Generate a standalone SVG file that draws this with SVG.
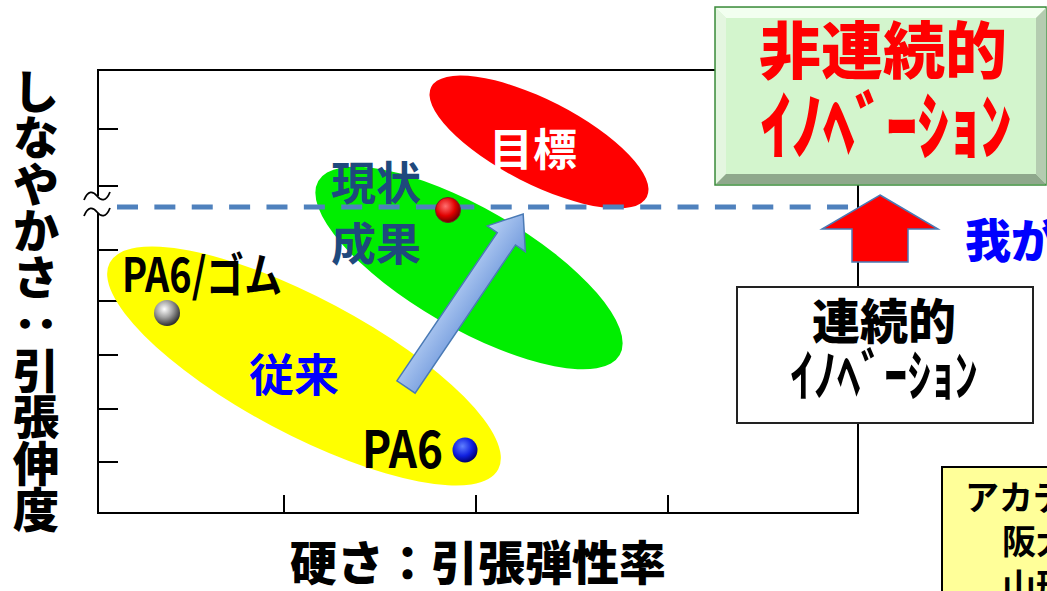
<svg xmlns="http://www.w3.org/2000/svg" width="1047" height="591" viewBox="0 0 1047 591">
<defs>
<style>
text{font-family:"Noto Sans CJK JP","Noto Sans CJK SC",sans-serif;font-weight:700}
.ax{stroke:#000;stroke-width:2;fill:none}
.tk{stroke:#000;stroke-width:2}
</style>
<radialGradient id="gRed" cx="0.4" cy="0.35" r="0.65">
<stop offset="0" stop-color="#ff7070"/><stop offset="0.6" stop-color="#e00000"/><stop offset="1" stop-color="#700000"/>
</radialGradient>
<radialGradient id="gGray" cx="0.4" cy="0.35" r="0.65">
<stop offset="0" stop-color="#ffffff"/><stop offset="0.5" stop-color="#a0a0a0"/><stop offset="1" stop-color="#303030"/>
</radialGradient>
<radialGradient id="gBlue" cx="0.4" cy="0.35" r="0.65">
<stop offset="0" stop-color="#6080ff"/><stop offset="0.6" stop-color="#1020e0"/><stop offset="1" stop-color="#000070"/>
</radialGradient>
<linearGradient id="gArrow" x1="0" y1="0" x2="0" y2="1">
<stop offset="0" stop-color="#b8d0f4"/><stop offset="1" stop-color="#6f98dc"/>
</linearGradient>
</defs>

<g id="frame">
<path class="ax" d="M98,196 V70 H858 V513 H98 V213"/>
<g class="tk">
<line x1="98" y1="129" x2="118" y2="129"/>
<line x1="98" y1="186" x2="118" y2="186"/>
<line x1="98" y1="250" x2="118" y2="250"/>
<line x1="98" y1="301" x2="118" y2="301"/>
<line x1="98" y1="355" x2="118" y2="355"/>
<line x1="98" y1="409" x2="118" y2="409"/>
<line x1="98" y1="462" x2="118" y2="462"/>
<line x1="284" y1="495" x2="284" y2="513"/>
<line x1="476" y1="495" x2="476" y2="513"/>
<line x1="668" y1="495" x2="668" y2="513"/>
</g>
<path d="M84,200 C88,190 93,191 97,196 S106,202 110,192" fill="none" stroke="#000" stroke-width="1.8"/>
<path d="M84,216 C88,206 93,207 97,212 S106,218 110,208" fill="none" stroke="#000" stroke-width="1.8"/>
</g>

<g id="regions">
<ellipse id="conventional" cx="304" cy="366" rx="220" ry="68" transform="rotate(28 304 366)" fill="#ffff00"/>
<ellipse id="current" cx="469" cy="268" rx="174" ry="60" transform="rotate(30 469 268)" fill="#00ee00"/>
<ellipse id="target" cx="539" cy="142" rx="121" ry="42" transform="rotate(27 539 142)" fill="#ff0000"/>
</g>

<g id="connectors">
<line x1="117" y1="207" x2="850" y2="207" stroke="#4f81bd" stroke-width="5" stroke-dasharray="21 16.37"/>
<polygon points="0,-11 179,-11 179,-23 209,0 179,23 179,11 0,11" transform="translate(406,387) rotate(-55.9)" fill="url(#gArrow)" stroke="#4a7ab5" stroke-width="1.5"/>
<polygon points="880,195 938,229 908,229 908,262 852,262 852,229 822,229" fill="#ff0000" stroke="#4a7ab5" stroke-width="1.5"/>
</g>

<g id="labels">
<text x="533" y="166" font-size="44" fill="#ffffff" text-anchor="middle">目標</text>
<text x="331" y="200" font-size="45" fill="#1f497d">現状</text>
<text x="331" y="261" font-size="45" fill="#1f497d">成果</text>
<text x="249" y="392" font-size="45" fill="#0000ff">従来</text>
<text x="122" y="292" font-size="47" fill="#000" textLength="160" lengthAdjust="spacingAndGlyphs">PA6/ゴム</text>
<text x="362" y="468" font-size="51" fill="#000" textLength="81" lengthAdjust="spacingAndGlyphs">PA6</text>
</g>

<g id="points">
<circle cx="448" cy="210" r="12.5" fill="url(#gRed)" stroke="#7a2020" stroke-width="1"/>
<circle cx="167" cy="313" r="13" fill="url(#gGray)"/>
<circle cx="465" cy="450" r="12.5" fill="url(#gBlue)"/>
</g>

<g id="axis-labels">
<text x="36" y="68" font-size="46.5" fill="#000" style="writing-mode:vertical-rl;font-weight:900">しなやかさ：引張伸度</text>
<text x="478" y="580" font-size="47" fill="#000" text-anchor="middle" style="font-weight:900">硬さ：引張弾性率</text>
</g>

<g id="discontinuous">
<rect x="715" y="7" width="331" height="178" fill="#d3f5cd" stroke="#3c8a3c" stroke-width="1.5"/>
<polygon points="716,8 1046,8 1036,18 726,18" fill="#f2fff0"/>
<polygon points="716,8 726,18 726,174 716,184" fill="#e4f6e0"/>
<polygon points="716,184 726,174 1036,174 1046,184" fill="#8fa88c"/>
<polygon points="1046,8 1036,18 1036,174 1046,184" fill="#b4ccb0"/>
<text x="883" y="74" font-size="62" fill="#ff0000" text-anchor="middle" style="font-weight:900">非連続的</text>
<text x="0" y="0" font-size="63" fill="#ff0000" text-anchor="middle" style="font-weight:900" transform="translate(886,153) scale(1,1.18)">ｲﾉﾍﾞｰｼｮﾝ</text>
</g>

<g id="our-strength">
<text x="965" y="257" font-size="46" fill="#0000ff" style="font-weight:900">我が</text>
</g>

<g id="continuous">
<rect x="737" y="287" width="296" height="136" fill="#ffffff" stroke="#222" stroke-width="2"/>
<text x="884" y="339" font-size="48" fill="#000" text-anchor="middle" style="font-weight:900">連続的</text>
<text x="0" y="0" font-size="47" fill="#000" text-anchor="middle" transform="translate(884,396) scale(1,1.2)">ｲﾉﾍﾞｰｼｮﾝ</text>
</g>

<g id="academia">
<rect x="942" y="467" width="120" height="140" fill="#ffff99" stroke="#000" stroke-width="2"/>
<text x="965" y="510" font-size="34" fill="#000">アカデミア</text>
<text x="1002" y="554" font-size="34" fill="#000">阪大</text>
<text x="1002" y="598" font-size="34" fill="#000">山形大</text>
</g>
</svg>
